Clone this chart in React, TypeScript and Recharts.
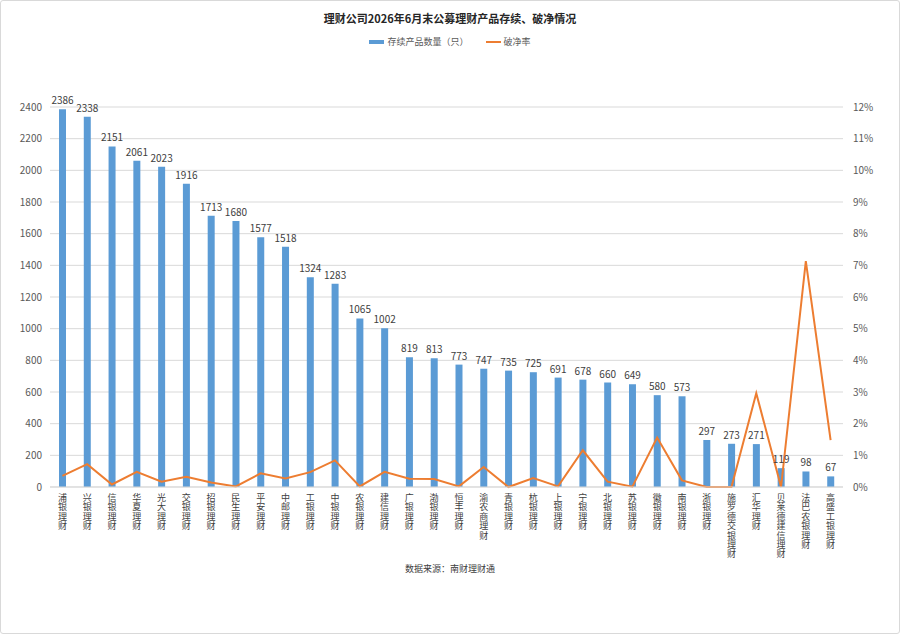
import React from "react"
import { ComposedChart, Bar, Line, XAxis, YAxis, CartesianGrid, LabelList } from "recharts"

const companies = [
  "浦银理财", "兴银理财", "信银理财", "华夏理财", "光大理财", "交银理财", "招银理财", "民生理财",
  "平安理财", "中邮理财", "工银理财", "中银理财", "农银理财", "建信理财", "广银理财", "渤银理财",
  "恒丰理财", "渝农商理财", "青银理财", "杭银理财", "上银理财", "宁银理财", "北银理财", "苏银理财",
  "徽银理财", "南银理财", "浙银理财", "施罗德交银理财", "汇华理财", "贝莱德建信理财", "法巴农银理财", "高盛工银理财",
]

const productCounts = [
  2386, 2338, 2151, 2061, 2023, 1916, 1713, 1680,
  1577, 1518, 1324, 1283, 1065, 1002, 819, 813,
  773, 747, 735, 725, 691, 678, 660, 649,
  580, 573, 297, 273, 271, 119, 98, 67,
]

// 破净率, in percent
const breakRates = [
  0.35, 0.72, 0.08, 0.48, 0.17, 0.32, 0.14, 0.02,
  0.43, 0.27, 0.47, 0.84, 0.02, 0.48, 0.26, 0.25,
  0.02, 0.63, 0.0, 0.28, 0.02, 1.16, 0.17, 0.01,
  1.56, 0.21, 0.0, 0.0, 2.96, 0.0, 7.13, 1.48,
]

const countTicks = [0, 200, 400, 600, 800, 1000, 1200, 1400, 1600, 1800, 2000, 2200, 2400]
const rateTicks = [0, 1, 2, 3, 4, 5, 6, 7, 8, 9, 10, 11, 12]

const data = companies.map((name, i) => ({
  name,
  count: productCounts[i],
  rate: breakRates[i],
}))

const FONT = '"Noto Sans CJK SC", "Noto Sans", sans-serif'

// company names are written top to bottom, one character under the next
const VerticalTick = (props: any) => {
  const { x, y, payload } = props
  return (
    <text
      x={x}
      y={y - 2}
      fontSize={9}
      fill="#404040"
      fontFamily={FONT}
      letterSpacing={0.4}
      style={{ writingMode: "vertical-rl" }}
    >
      {payload.value}
    </text>
  )
}

export default function App() {
  return (
    <div
      style={{
        position: "absolute",
        left: 0,
        top: 0,
        width: 900,
        height: 634,
        boxSizing: "border-box",
        border: "1px solid #d9d9d9",
        borderRadius: 3,
        background: "#fff",
        fontFamily: FONT,
      }}
    >
      <div
        style={{
          position: "absolute",
          top: 9,
          width: "100%",
          textAlign: "center",
          fontSize: 11,
          fontWeight: "bold",
          color: "#262626",
          lineHeight: "16px",
        }}
      >
        理财公司2026年6月末公募理财产品存续、破净情况
      </div>
      <div
        style={{
          position: "absolute",
          top: 34,
          width: "100%",
          display: "flex",
          justifyContent: "center",
          alignItems: "center",
          fontSize: 9,
          color: "#595959",
          lineHeight: "14px",
        }}
      >
        <span style={{ display: "inline-block", width: 15, height: 4, background: "#5B9BD5", marginRight: 3 }} />
        <span>存续产品数量（只）</span>
        <span style={{ display: "inline-block", width: 15, height: 2, background: "#ED7D31", marginLeft: 17, marginRight: 3 }} />
        <span>破净率</span>
      </div>
      <ComposedChart
        width={898}
        height={632}
        data={data}
        margin={{ top: 106, right: 0, bottom: 66, left: 0 }}
        barCategoryGap={0}
      >
        <CartesianGrid vertical={false} stroke="#d9d9d9" yAxisId="left" />
        <XAxis
          dataKey="name"
          interval={0}
          tickLine={false}
          axisLine={{ stroke: "#d9d9d9" }}
          height={80}
          tick={<VerticalTick />}
        />
        <YAxis
          yAxisId="left"
          orientation="left"
          width={49}
          domain={[0, 2400]}
          ticks={countTicks}
          axisLine={false}
          tickLine={false}
          tick={{ fontSize: 10, fill: "#595959", fontFamily: FONT }}
        />
        <YAxis
          yAxisId="right"
          orientation="right"
          width={56}
          domain={[0, 12]}
          ticks={rateTicks}
          axisLine={false}
          tickLine={false}
          tickMargin={4}
          tickFormatter={(v) => `${v}%`}
          tick={{ fontSize: 10, fill: "#595959", fontFamily: FONT }}
        />
        <Bar yAxisId="left" dataKey="count" fill="#5B9BD5" barSize={7} isAnimationActive={false}>
          <LabelList dataKey="count" position="top" offset={5} fontSize={10} fill="#404040" fontFamily={FONT} />
        </Bar>
        <Line
          yAxisId="right"
          dataKey="rate"
          type="linear"
          stroke="#ED7D31"
          strokeWidth={2}
          dot={false}
          isAnimationActive={false}
        />
      </ComposedChart>
      <div
        style={{
          position: "absolute",
          top: 561,
          width: "100%",
          textAlign: "center",
          fontSize: 9,
          color: "#404040",
          lineHeight: "14px",
        }}
      >
        数据来源：南财理财通
      </div>
    </div>
  )
}
